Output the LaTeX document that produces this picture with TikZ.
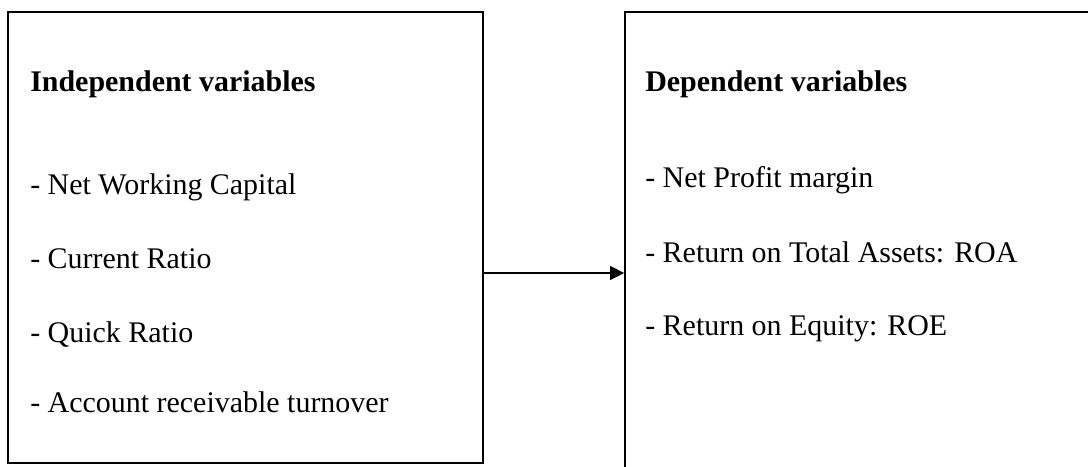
\documentclass[tikz,border=0pt]{standalone}
\usepackage{fontspec}
\setmainfont{Liberation Serif}
\usetikzlibrary{arrows.meta}

\begin{document}
\begin{tikzpicture}[
			varbox/.style={draw, line width=1.2pt, inner sep=0pt},
			item/.style={anchor=base west, inner sep=0pt, font=\fontsize{21.3}{25}\selectfont}
		]
		\useasboundingbox (0,0) rectangle (27.2,-11.65);
		\clip (0,0) rectangle (27.2,-11.65);

		\node[varbox, minimum width=11.875cm, minimum height=11.275cm] (indep) at (6.1375,-5.9375) {};
		\node[varbox, minimum width=12.375cm, minimum height=12.2cm] (dep) at (21.8125,-6.4) {};

		\node[item] (indeptitle) at (0.75,-2.275) {\textbf{Independent variables}};
		\node[item] (nwc) at (0.75,-4.85) {- Net Working Capital};
		\node[item] (cr) at (0.75,-6.7) {- Current Ratio};
		\node[item] (qr) at (0.75,-8.55) {- Quick Ratio};
		\node[item] (art) at (0.75,-10.3) {- Account receivable turnover};

		\node[item] (deptitle) at (16.125,-2.275) {\textbf{Dependent variables}};
		\node[item] (npm) at (16.125,-4.675) {- Net Profit margin};
		\node[item] (roa) at (16.125,-6.55) {- Return on Total Assets: ROA};
		\node[item] (roe) at (16.125,-8.375) {- Return on Equity: ROE};

		\coordinate (arr) at (0,-6.825);
		\draw[-{Triangle[length=10pt, width=10pt]}, line width=0.8pt] (indep.east |- arr) -- (dep.west |- arr);
	\end{tikzpicture}
\end{document}
